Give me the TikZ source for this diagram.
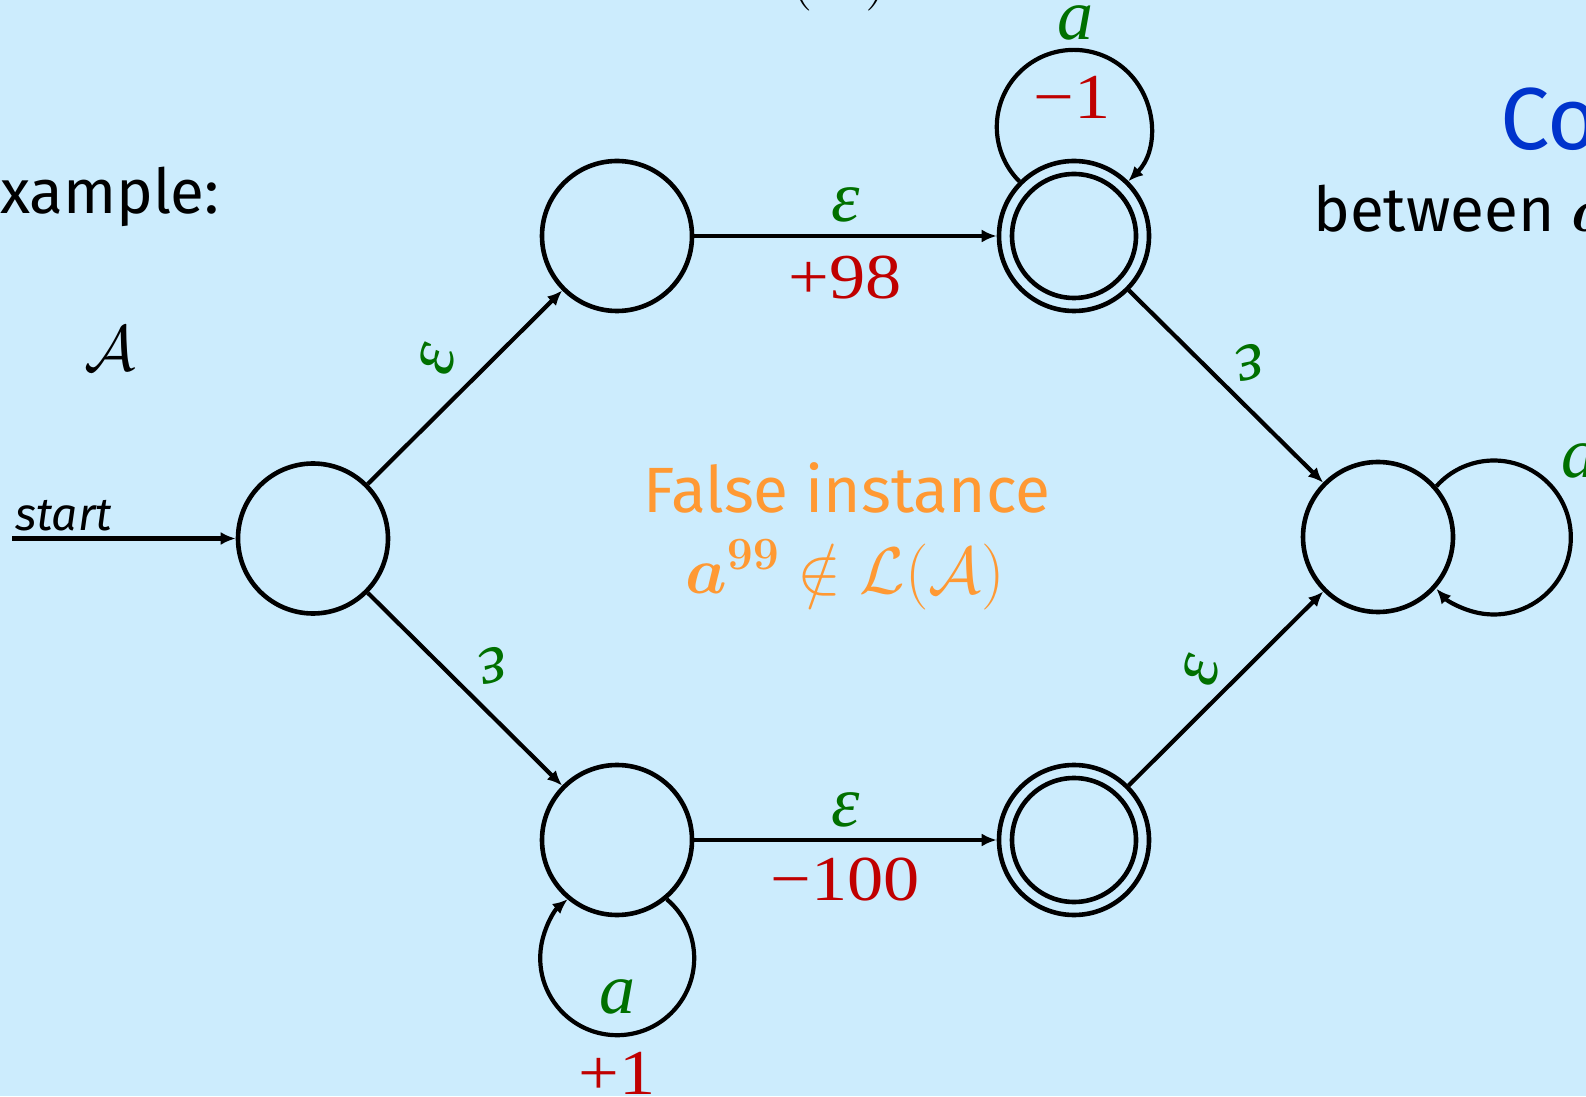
\RequirePackage{fix-cm}
\documentclass[tikz,border=0pt]{standalone}
\usepackage{amsmath}
\usepackage{bm}
\usepackage[no-math]{fontspec}
\setmainfont{Fira Sans}
\newfontfamily\lserif{Liberation Serif}
\newfontfamily\lserifw[FakeStretch=1.13]{Liberation Serif}
\usetikzlibrary{arrows.meta}
\definecolor{bgc}{RGB}{204,236,253}
\definecolor{lgreen}{RGB}{0,112,0}
\definecolor{lred}{RGB}{192,0,0}
\definecolor{lorange}{RGB}{255,153,51}
\definecolor{lblue}{RGB}{0,51,204}
\tikzset{
 stnode/.style={circle, draw, line width=4.6pt, minimum size=150pt, inner sep=0pt},
 edgeline/.style={line width=4.2pt, -{Latex[length=15pt,width=13pt]}},
 glab/.style={text=lgreen, font=\fontsize{72}{80}\lserif\itshape, inner sep=0pt},
 rlab/.style={text=lred, font=\fontsize{64}{72}\lserifw, inner sep=0pt},
 txt/.style={inner sep=0pt, font=\fontsize{62}{70}\selectfont},
}
\begin{document}
\begin{tikzpicture}[x=1pt,y=1pt]
\useasboundingbox (0,0) rectangle (1586,1096);
\clip (0,0) rectangle (1586,1096);
\fill[bgc] (0,0) rectangle (1586,1096);

% side texts
\node[txt, anchor=base west] (ex) at (0,882) {xample:};
\node[txt, anchor=center, font=\fontsize{64}{70}\selectfont] (aut) at (110,747) {$\mathcal{A}$};
\node[txt, anchor=base west, text=lblue, font=\fontsize{88}{96}\selectfont] (co) at (1500,946) {Co};
\node[txt, anchor=base west] (betw) at (1313,864) {between $\bm{a}$};
\node[txt, anchor=base west, font=\fontsize{66}{72}\selectfont] (top) at (744,1101) {$\mathcal{L}(\mathcal{A})$};
\node[txt, anchor=base, text=lorange, font=\fontsize{64}{72}\selectfont] (fi) at (847,583) {False instance};
\node[txt, anchor=base, text=lorange, font=\fontsize{66}{74}\selectfont] (fm) at (845,503) {$\bm{a^{99}}\notin\mathcal{L}(\mathcal{A})$};

% states
\node[stnode] (q0) at (313,557.5) {};
\node[stnode] (q1) at (617,860) {};
\node[stnode] (q2) at (1074,860) {};
\node[stnode] (q3) at (617,256) {};
\node[stnode] (q4) at (1074,256) {};
\node[stnode] (q5) at (1378,559) {};
\draw[line width=4.6pt] (q2.center) circle[radius=62pt];
\draw[line width=4.6pt] (q4.center) circle[radius=62pt];

% start
\coordinate (s0) at (12,557.5);
\node[txt, anchor=base west, font=\fontsize{46}{52}\selectfont\itshape] (st) at (15,565) {start};
\draw[edgeline] (s0) -- (q0);

% edges
\draw[edgeline] (q0) -- node[glab, xshift=-28pt, yshift=28pt, rotate=75] {ε} (q1);
\draw[edgeline] (q0) -- node[glab, xshift=28pt, yshift=24pt, rotate=195] {ε} (q3);
\draw[edgeline] (q1) -- node[glab, yshift=31pt] {ε} node[rlab, yshift=-42pt] {+98} (q2);
\draw[edgeline] (q3) -- node[glab, yshift=30pt] {ε} node[rlab, yshift=-40pt] {−100} (q4);
\draw[edgeline] (q2) -- node[glab, xshift=24pt, yshift=24pt, rotate=195] {ε} (q5);
\draw[edgeline] (q4) -- node[glab, xshift=-25pt, yshift=18pt, rotate=75] {ε} (q5);

% loops
\draw[edgeline] (q2.135) arc[start angle=225, end angle=-45, radius=77pt];
\node[glab] (l2a) at (1075,1073) {a};
\node[rlab] (l2w) at (1072,999) {−1};
\draw[edgeline] (q3.-50) arc[start angle=50, end angle=-230, radius=77pt];
\node[glab] (l3a) at (617,99) {a};
\node[rlab] (l3w) at (617,23) {+1};
\draw[edgeline] (q5.41.7) arc[start angle=138.3, end angle=-138.3, radius=77pt];
\node[glab, anchor=base west] (l5a) at (1561,618) {a};
\end{tikzpicture}
\end{document}
